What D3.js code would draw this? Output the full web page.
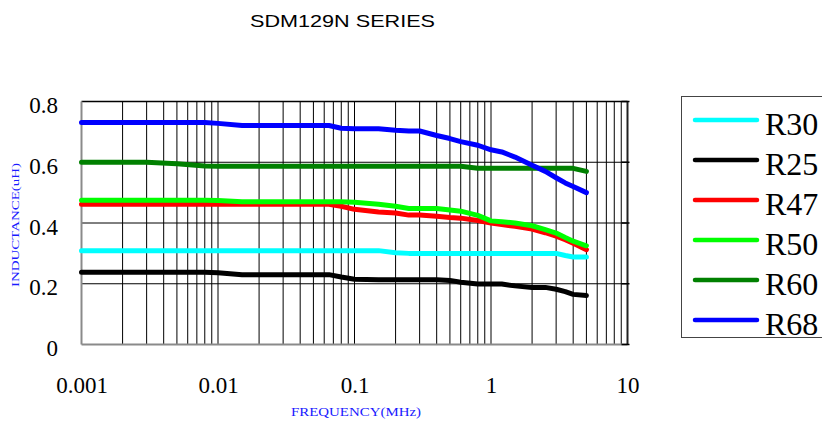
<!DOCTYPE html>
<html>
<head>
<meta charset="utf-8">
<script src="https://cdn.jsdelivr.net/npm/d3@7"></script>
<style>
  html, body { margin: 0; padding: 0; background: #fff; }
  svg { display: block; }
</style>
</head>
<body>
<svg id="chart" width="822" height="421"></svg>
<script>
// ---- data ----
const title = "SDM129N SERIES";
const xTitle = "FREQUENCY(MHz)";
const yTitle = "INDUCTANCE(uH)";
const xTickValues = [0.001, 0.01, 0.1, 1, 10];
const xTickLabels = ["0.001", "0.01", "0.1", "1", "10"];
const yTickValues = [0, 0.2, 0.4, 0.6, 0.8];
const yTickLabels = ["0", "0.2", "0.4", "0.6", "0.8"];

const seriesNames = ["R30", "R25", "R47", "R50", "R60", "R68"];
const seriesColors = ["#00ffff", "#000000", "#ff0000", "#00ff00", "#008000", "#0000ff"];

const freqs = [0.001, 0.002, 0.003, 0.005, 0.008, 0.01, 0.015, 0.02, 0.03, 0.05, 0.065, 0.08,
  0.1, 0.15, 0.2, 0.25, 0.3, 0.4, 0.5, 0.6, 0.8, 1, 1.2, 1.5, 2, 2.5, 3, 3.5, 4, 5];

const R30 = [0.309, 0.309, 0.309, 0.309, 0.309, 0.309, 0.309, 0.309, 0.309, 0.309, 0.309, 0.309,
  0.309, 0.309, 0.302, 0.300, 0.300, 0.300, 0.300, 0.300, 0.300, 0.300, 0.300, 0.300, 0.300, 0.300, 0.300, 0.293, 0.288, 0.288];
const R25 = [0.238, 0.238, 0.238, 0.238, 0.238, 0.236, 0.230, 0.230, 0.230, 0.230, 0.230, 0.222,
  0.215, 0.213, 0.213, 0.213, 0.213, 0.213, 0.211, 0.205, 0.199, 0.199, 0.199, 0.193, 0.188, 0.188, 0.182, 0.174, 0.165, 0.161];
const R47 = [0.462, 0.462, 0.462, 0.462, 0.462, 0.462, 0.462, 0.462, 0.462, 0.462, 0.462, 0.455,
  0.445, 0.436, 0.433, 0.426, 0.426, 0.422, 0.418, 0.416, 0.408, 0.400, 0.395, 0.389, 0.380, 0.368, 0.357, 0.345, 0.333, 0.312];
const R50 = [0.475, 0.475, 0.475, 0.475, 0.475, 0.474, 0.470, 0.470, 0.470, 0.470, 0.470, 0.470,
  0.468, 0.462, 0.455, 0.448, 0.448, 0.448, 0.443, 0.439, 0.425, 0.407, 0.404, 0.400, 0.391, 0.378, 0.367, 0.352, 0.340, 0.325];
const R60 = [0.600, 0.600, 0.600, 0.595, 0.588, 0.587, 0.587, 0.587, 0.587, 0.587, 0.587, 0.587,
  0.587, 0.587, 0.587, 0.587, 0.587, 0.587, 0.587, 0.587, 0.580, 0.580, 0.580, 0.580, 0.580, 0.580, 0.580, 0.580, 0.580, 0.570];
const R68 = [0.731, 0.731, 0.731, 0.731, 0.731, 0.728, 0.721, 0.721, 0.721, 0.721, 0.721, 0.712,
  0.710, 0.710, 0.705, 0.703, 0.703, 0.688, 0.678, 0.668, 0.656, 0.641, 0.634, 0.617, 0.590, 0.570, 0.549, 0.532, 0.520, 0.500];
const seriesValues = [R30, R25, R47, R50, R60, R68];

// ---- layout ----
const svg = d3.select("#chart");
const x = d3.scaleLog().domain([0.001, 10]).range([81.5, 627.5]);
const y = d3.scaleLinear().domain([0, 0.8]).range([344.5, 101.5]);
const serif = "'Liberation Serif', 'DejaVu Serif', serif";

// title
svg.append("text")
  .attr("x", 342.5).attr("y", 27)
  .attr("text-anchor", "middle")
  .attr("font-family", "'Liberation Sans', Arial, sans-serif")
  .attr("font-size", 16.5)
  .attr("textLength", 185).attr("lengthAdjust", "spacingAndGlyphs")
  .text(title);

// grid
const grid = svg.append("g");
const minor = [];
[0.001, 0.01, 0.1, 1].forEach(d => { for (let k = 2; k <= 10; k++) minor.push(d * k); });
grid.selectAll("line.v").data(minor.filter(v => v < 10)).enter().append("line")
  .attr("x1", d => x(d)).attr("x2", d => x(d))
  .attr("y1", y(0.8)).attr("y2", y(0))
  .attr("stroke", "#000").attr("stroke-width", 1);
grid.selectAll("line.h").data([0.2, 0.4, 0.6]).enter().append("line")
  .attr("x1", x(0.001)).attr("x2", x(10))
  .attr("y1", d => y(d)).attr("y2", d => y(d))
  .attr("stroke", "#000").attr("stroke-width", 1);

// frame
svg.append("line").attr("x1", x(0.001)).attr("x2", x(10)).attr("y1", y(0.8)).attr("y2", y(0.8))
  .attr("stroke", "#000").attr("stroke-width", 1.5);
svg.append("line").attr("x1", x(0.001)).attr("x2", x(0.001)).attr("y1", y(0.8)).attr("y2", y(0))
  .attr("stroke", "#8a8a8a").attr("stroke-width", 2);
svg.append("line").attr("x1", x(0.001)).attr("x2", x(10)).attr("y1", y(0)).attr("y2", y(0))
  .attr("stroke", "#8a8a8a").attr("stroke-width", 2);
svg.append("line").attr("x1", x(10)).attr("x2", x(10)).attr("y1", y(0.8)).attr("y2", y(0))
  .attr("stroke", "#222").attr("stroke-width", 2);
// right-side ticks
svg.selectAll("line.rt").data(yTickValues).enter().append("line")
  .attr("x1", x(10) - 6).attr("x2", x(10) + 2)
  .attr("y1", d => y(d)).attr("y2", d => y(d))
  .attr("stroke", "#000").attr("stroke-width", 1.5);

// axes labels
const xAxis = d3.axisBottom(x).tickValues(xTickValues)
  .tickFormat((d, i) => xTickLabels[i]).tickSize(0);
const gx = svg.append("g").attr("transform", `translate(0,${y(0)})`).call(xAxis);
gx.select(".domain").remove();
gx.selectAll("text").attr("y", 48).attr("dy", 0)
  .attr("font-family", serif).attr("font-size", 23).attr("fill", "#000");

const yAxis = d3.axisLeft(y).tickValues(yTickValues)
  .tickFormat((d, i) => yTickLabels[i]).tickSize(0);
const gy = svg.append("g").attr("transform", `translate(58,0)`).call(yAxis);
gy.select(".domain").remove();
gy.selectAll("text").attr("x", 0).attr("dy", 11)
  .attr("font-family", serif).attr("font-size", 23).attr("fill", "#000");

// axis titles
svg.append("text")
  .attr("x", 356).attr("y", 416)
  .attr("text-anchor", "middle")
  .attr("font-family", serif).attr("font-size", 13)
  .attr("fill", "#1a1aff")
  .attr("textLength", 130).attr("lengthAdjust", "spacingAndGlyphs")
  .text(xTitle);
svg.append("text")
  .attr("transform", "translate(19,225) rotate(-90)")
  .attr("text-anchor", "middle")
  .attr("font-family", serif).attr("font-size", 10.5)
  .attr("fill", "#1a1aff")
  .attr("textLength", 124).attr("lengthAdjust", "spacingAndGlyphs")
  .text(yTitle);

// series lines
const line = d3.line().x(d => x(d[0])).y(d => y(d[1]));
seriesNames.forEach((name, i) => {
  svg.append("path")
    .datum(freqs.map((f, j) => [f, seriesValues[i][j]]))
    .attr("d", line)
    .attr("fill", "none")
    .attr("stroke", seriesColors[i])
    .attr("stroke-width", 5)
    .attr("stroke-linecap", "round")
    .attr("stroke-linejoin", "round");
});

// legend
const lg = svg.append("g");
lg.append("rect").attr("x", 681.5).attr("y", 96.5).attr("width", 200).attr("height", 241)
  .attr("fill", "#fff").attr("stroke", "#444").attr("stroke-width", 1);
const legendY = d3.scalePoint().domain(seriesNames).range([120, 320]);
seriesNames.forEach((name, i) => {
  const ly = legendY(name);
  lg.append("line").attr("x1", 695).attr("x2", 757).attr("y1", ly).attr("y2", ly)
    .attr("stroke", seriesColors[i]).attr("stroke-width", 4.5).attr("stroke-linecap", "round");
  lg.append("text").attr("x", 765).attr("y", ly + 15)
    .attr("font-family", serif).attr("font-size", 32).attr("fill", "#000")
    .text(name);
});
</script>
</body>
</html>
